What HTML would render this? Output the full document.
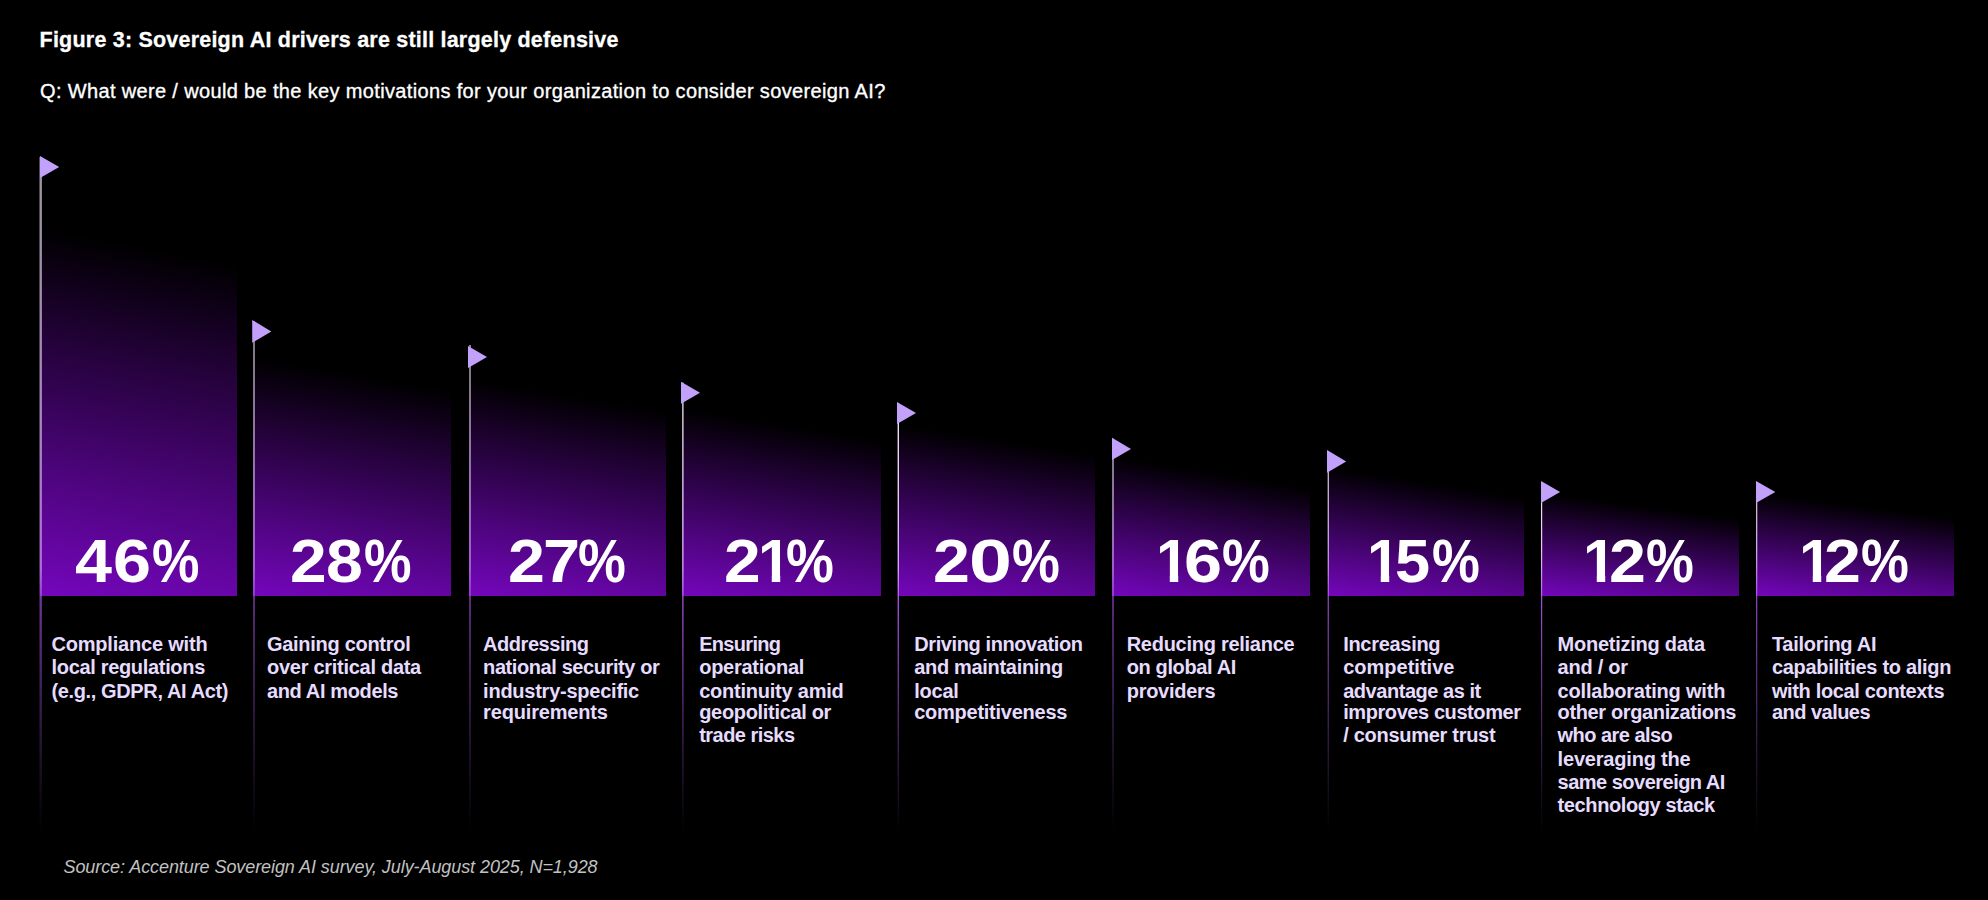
<!DOCTYPE html>
<html lang="en"><head><meta charset="utf-8"><title>Figure 3: Sovereign AI drivers are still largely defensive</title>
<style>
html,body{margin:0;padding:0;background:#000;}
body{width:1988px;height:900px;position:relative;overflow:hidden;font-family:"Liberation Sans",sans-serif;color:#fff;}
h1{position:absolute;left:39.6px;top:27.7px;margin:0;font-size:21.5px;line-height:24px;font-weight:bold;letter-spacing:0.21px;white-space:nowrap;-webkit-text-stroke:0.3px #fff;}
.q{position:absolute;left:40px;top:79px;margin:0;font-size:20px;line-height:24px;letter-spacing:0.35px;white-space:nowrap;-webkit-text-stroke:0.35px #fff;}
.bar{position:absolute;}
.pole{position:absolute;}
.pct{position:absolute;left:0;top:526.6px;height:68px;font-weight:bold;font-size:60.5px;line-height:68px;white-space:nowrap;}
.pct span{position:absolute;top:0;display:block;height:68px;transform-origin:0 0;}
.pct span.one{clip-path:polygon(0 0,22.7px 0,22.7px 100%,14px 100%,14px 48.4px,0 48.4px);}
.lbl{position:absolute;left:0;top:633px;font-weight:bold;font-size:20px;line-height:23.35px;color:#E6DCFF;white-space:nowrap;}
.lbl span{display:block;position:relative;height:23.35px;}
.lbl span.s{top:-2.2px;}
.src{position:absolute;left:63.5px;top:856px;font-style:italic;font-size:18px;line-height:22px;color:#c2c2c2;white-space:nowrap;letter-spacing:-0.08px;}
svg{position:absolute;left:0;top:0;}
</style></head><body>
<h1>Figure 3: Sovereign AI drivers are still largely defensive</h1>
<p class="q">Q: What were / would be the key motivations for your organization to consider sovereign AI?</p>

<div class="bar" style="left:39.5px;top:156.0px;width:197.5px;height:440.0px;background:linear-gradient(11deg,#7406bc 0%,#000 77.3%);"></div>
<div class="pct"><span style="left:75.31px;transform:scaleX(1.0988)">4</span><span style="left:113.31px;transform:scaleX(1.1297)">6</span><span style="left:152.18px;transform:scaleX(0.8817)">%</span></div>
<div class="lbl"><span style="left:51.50px;letter-spacing:-0.200px">Compliance with</span> <span style="left:51.50px;letter-spacing:-0.322px">local regulations</span> <span style="left:51.50px;letter-spacing:-0.373px">(e.g., GDPR, AI Act)</span></div>
<div class="bar" style="left:253.0px;top:320.0px;width:197.5px;height:276.0px;background:linear-gradient(9.6deg,#7406bc 0%,#000 77.3%);"></div>
<div class="pct"><span style="left:290.11px;transform:scaleX(1.0893)">2</span><span style="left:326.22px;transform:scaleX(1.0970)">8</span><span style="left:364.27px;transform:scaleX(0.8836)">%</span></div>
<div class="lbl"><span style="left:267.00px;letter-spacing:-0.290px">Gaining control</span> <span style="left:267.00px;letter-spacing:-0.278px">over critical data</span> <span style="left:267.00px;letter-spacing:-0.375px">and AI models</span></div>
<div class="bar" style="left:469.0px;top:346.0px;width:197.0px;height:250.0px;background:linear-gradient(9.4deg,#7406bc 0%,#000 77.1%);"></div>
<div class="pct"><span style="left:508.10px;transform:scaleX(1.0962)">2</span><span style="left:542.93px;transform:scaleX(1.1021)">7</span><span style="left:577.87px;transform:scaleX(0.8895)">%</span></div>
<div class="lbl"><span style="left:483.10px;letter-spacing:-0.457px">Addressing</span> <span style="left:483.10px;letter-spacing:-0.410px">national security or</span> <span style="left:483.10px;letter-spacing:-0.244px">industry-specific</span> <span class="s" style="left:483.10px;letter-spacing:-0.168px">requirements</span></div>
<div class="bar" style="left:682.0px;top:381.7px;width:199.0px;height:214.3px;background:linear-gradient(9.2deg,#7406bc 0%,#000 76.5%);"></div>
<div class="pct"><span style="left:724.01px;transform:scaleX(1.0893)">2</span><span class="one" style="left:758.06px;transform:scaleX(0.9839)">1</span><span style="left:785.87px;transform:scaleX(0.8895)">%</span></div>
<div class="lbl"><span style="left:699.20px;letter-spacing:-0.690px">Ensuring</span> <span style="left:699.20px;letter-spacing:-0.256px">operational</span> <span style="left:699.20px;letter-spacing:-0.230px">continuity amid</span> <span class="s" style="left:699.20px;letter-spacing:-0.320px">geopolitical or</span> <span class="s" style="left:699.20px;letter-spacing:-0.536px">trade risks</span></div>
<div class="bar" style="left:897.6px;top:402.0px;width:197.4px;height:194.0px;background:linear-gradient(9.0deg,#7406bc 0%,#000 76.6%);"></div>
<div class="pct"><span style="left:933.10px;transform:scaleX(1.0962)">2</span><span style="left:969.44px;transform:scaleX(1.2743)">0</span><span style="left:1011.67px;transform:scaleX(0.8895)">%</span></div>
<div class="lbl"><span style="left:914.20px;letter-spacing:-0.394px">Driving innovation</span> <span style="left:914.20px;letter-spacing:-0.310px">and maintaining</span> <span style="left:914.20px;letter-spacing:-0.235px">local</span> <span class="s" style="left:914.20px;letter-spacing:-0.250px">competitiveness</span></div>
<div class="bar" style="left:1112.0px;top:437.7px;width:198.0px;height:158.3px;background:linear-gradient(9.4deg,#7406bc 0%,#000 73.7%);"></div>
<div class="pct"><span class="one" style="left:1156.06px;transform:scaleX(0.9839)">1</span><span style="left:1184.01px;transform:scaleX(1.1297)">6</span><span style="left:1221.87px;transform:scaleX(0.8876)">%</span></div>
<div class="lbl"><span style="left:1126.70px;letter-spacing:-0.270px">Reducing reliance</span> <span style="left:1126.70px;letter-spacing:-0.372px">on global AI</span> <span style="left:1126.70px;letter-spacing:-0.270px">providers</span></div>
<div class="bar" style="left:1327.6px;top:450.0px;width:196.4px;height:146.0px;background:linear-gradient(9.0deg,#7406bc 0%,#000 73.4%);"></div>
<div class="pct"><span class="one" style="left:1367.16px;transform:scaleX(0.9839)">1</span><span style="left:1394.62px;transform:scaleX(1.0432)">5</span><span style="left:1431.87px;transform:scaleX(0.8895)">%</span></div>
<div class="lbl"><span style="left:1343.20px;letter-spacing:-0.301px">Increasing</span> <span style="left:1343.20px;letter-spacing:0.010px">competitive</span> <span style="left:1343.20px;letter-spacing:-0.460px">advantage as it</span> <span class="s" style="left:1343.20px;letter-spacing:-0.419px">improves customer</span> <span class="s" style="left:1343.20px;letter-spacing:-0.289px">/ consumer trust</span></div>
<div class="bar" style="left:1541.0px;top:481.0px;width:198.0px;height:115.0px;background:linear-gradient(7.4deg,#7406bc 0%,#000 73.6%);"></div>
<div class="pct"><span class="one" style="left:1583.26px;transform:scaleX(0.9839)">1</span><span style="left:1609.00px;transform:scaleX(1.0962)">2</span><span style="left:1645.87px;transform:scaleX(0.8895)">%</span></div>
<div class="lbl"><span style="left:1557.60px;letter-spacing:-0.260px">Monetizing data</span> <span style="left:1557.60px;letter-spacing:-0.250px">and / or</span> <span style="left:1557.60px;letter-spacing:-0.196px">collaborating with</span> <span class="s" style="left:1557.60px;letter-spacing:-0.371px">other organizations</span> <span class="s" style="left:1557.60px;letter-spacing:-0.537px">who are also</span> <span class="s" style="left:1557.60px;letter-spacing:-0.195px">leveraging the</span> <span class="s" style="left:1557.60px;letter-spacing:-0.515px">same sovereign AI</span> <span class="s" style="left:1557.60px;letter-spacing:-0.391px">technology stack</span></div>
<div class="bar" style="left:1756.0px;top:481.0px;width:198.0px;height:115.0px;background:linear-gradient(7.4deg,#7406bc 0%,#000 73.6%);"></div>
<div class="pct"><span class="one" style="left:1798.56px;transform:scaleX(0.9839)">1</span><span style="left:1824.30px;transform:scaleX(1.0962)">2</span><span style="left:1861.17px;transform:scaleX(0.8895)">%</span></div>
<div class="lbl"><span style="left:1771.90px;letter-spacing:-0.283px">Tailoring AI</span> <span style="left:1771.90px;letter-spacing:-0.305px">capabilities to align</span> <span style="left:1771.90px;letter-spacing:-0.348px">with local contexts</span> <span class="s" style="left:1771.90px;letter-spacing:-0.519px">and values</span></div>
<svg width="1988" height="900" viewBox="0 0 1988 900"><defs><linearGradient id="pg0" gradientUnits="userSpaceOnUse" x1="0" y1="157.0" x2="0" y2="832"><stop offset="0%" stop-color="#f0e4f6"/><stop offset="39.0%" stop-color="#e2caf2"/><stop offset="60.9%" stop-color="#d2a4f0"/><stop offset="64.6%" stop-color="#b264e6"/><stop offset="65.6%" stop-color="#a050d8"/><stop offset="100%" stop-color="#a050d8" stop-opacity="0"/></linearGradient><linearGradient id="pg1" gradientUnits="userSpaceOnUse" x1="0" y1="321.0" x2="0" y2="832"><stop offset="0%" stop-color="#f0e4f6"/><stop offset="32.2%" stop-color="#e2caf2"/><stop offset="48.3%" stop-color="#d2a4f0"/><stop offset="53.2%" stop-color="#b264e6"/><stop offset="54.6%" stop-color="#a050d8"/><stop offset="100%" stop-color="#a050d8" stop-opacity="0"/></linearGradient><linearGradient id="pg2" gradientUnits="userSpaceOnUse" x1="0" y1="345.0" x2="0" y2="832"><stop offset="0%" stop-color="#f0e4f6"/><stop offset="31.0%" stop-color="#e2caf2"/><stop offset="45.8%" stop-color="#d2a4f0"/><stop offset="50.9%" stop-color="#b264e6"/><stop offset="52.4%" stop-color="#a050d8"/><stop offset="100%" stop-color="#a050d8" stop-opacity="0"/></linearGradient><linearGradient id="pg3" gradientUnits="userSpaceOnUse" x1="0" y1="382.7" x2="0" y2="832"><stop offset="0%" stop-color="#f0e4f6"/><stop offset="28.4%" stop-color="#e2caf2"/><stop offset="41.2%" stop-color="#d2a4f0"/><stop offset="46.8%" stop-color="#b264e6"/><stop offset="48.4%" stop-color="#a050d8"/><stop offset="100%" stop-color="#a050d8" stop-opacity="0"/></linearGradient><linearGradient id="pg4" gradientUnits="userSpaceOnUse" x1="0" y1="403.0" x2="0" y2="832"><stop offset="0%" stop-color="#f0e4f6"/><stop offset="26.9%" stop-color="#e2caf2"/><stop offset="38.5%" stop-color="#d2a4f0"/><stop offset="44.3%" stop-color="#b264e6"/><stop offset="45.9%" stop-color="#a050d8"/><stop offset="100%" stop-color="#a050d8" stop-opacity="0"/></linearGradient><linearGradient id="pg5" gradientUnits="userSpaceOnUse" x1="0" y1="438.7" x2="0" y2="832"><stop offset="0%" stop-color="#f0e4f6"/><stop offset="23.9%" stop-color="#e2caf2"/><stop offset="32.9%" stop-color="#d2a4f0"/><stop offset="39.2%" stop-color="#b264e6"/><stop offset="41.0%" stop-color="#a050d8"/><stop offset="100%" stop-color="#a050d8" stop-opacity="0"/></linearGradient><linearGradient id="pg6" gradientUnits="userSpaceOnUse" x1="0" y1="451.0" x2="0" y2="832"><stop offset="0%" stop-color="#f0e4f6"/><stop offset="22.7%" stop-color="#e2caf2"/><stop offset="30.7%" stop-color="#d2a4f0"/><stop offset="37.3%" stop-color="#b264e6"/><stop offset="39.1%" stop-color="#a050d8"/><stop offset="100%" stop-color="#a050d8" stop-opacity="0"/></linearGradient><linearGradient id="pg7" gradientUnits="userSpaceOnUse" x1="0" y1="482.0" x2="0" y2="832"><stop offset="0%" stop-color="#f0e4f6"/><stop offset="19.4%" stop-color="#e2caf2"/><stop offset="24.6%" stop-color="#d2a4f0"/><stop offset="31.7%" stop-color="#b264e6"/><stop offset="33.7%" stop-color="#a050d8"/><stop offset="100%" stop-color="#a050d8" stop-opacity="0"/></linearGradient><linearGradient id="pg8" gradientUnits="userSpaceOnUse" x1="0" y1="482.0" x2="0" y2="832"><stop offset="0%" stop-color="#f0e4f6"/><stop offset="19.4%" stop-color="#e2caf2"/><stop offset="24.6%" stop-color="#d2a4f0"/><stop offset="31.7%" stop-color="#b264e6"/><stop offset="33.7%" stop-color="#a050d8"/><stop offset="100%" stop-color="#a050d8" stop-opacity="0"/></linearGradient></defs>
<rect x="39.5" y="157.0" width="2.4" height="675.0" fill="url(#pg0)" opacity="0.66"/>
<rect x="253.0" y="321.0" width="2.0" height="511.0" fill="url(#pg1)" opacity="0.55"/>
<rect x="469.0" y="345.0" width="2.0" height="487.0" fill="url(#pg2)" opacity="0.55"/>
<rect x="682.0" y="382.7" width="1.7" height="449.3" fill="url(#pg3)" opacity="0.78"/>
<rect x="897.6" y="403.0" width="1.4" height="429.0" fill="url(#pg4)" opacity="1.0"/>
<rect x="1112.0" y="438.7" width="2.0" height="393.3" fill="url(#pg5)" opacity="0.55"/>
<rect x="1327.6" y="451.0" width="1.4" height="381.0" fill="url(#pg6)" opacity="0.8"/>
<rect x="1541.0" y="482.0" width="1.2" height="350.0" fill="url(#pg7)" opacity="1.0"/>
<rect x="1756.0" y="482.0" width="1.3" height="350.0" fill="url(#pg8)" opacity="0.85"/>
<polygon points="40.0,156.0 59.2,167.0 40.0,178.0" fill="#c2a1fb"/>
<polygon points="252.2,320.0 271.3,331.4 252.2,342.7" fill="#c2a1fb"/>
<polygon points="468.0,346.0 487.0,357.0 468.0,368.0" fill="#c2a1fb"/>
<polygon points="681.0,381.7 700.0,392.7 681.0,403.7" fill="#c2a1fb"/>
<polygon points="897.0,402.0 916.0,413.0 897.0,424.0" fill="#c2a1fb"/>
<polygon points="1112.0,437.7 1131.0,448.9 1112.0,460.0" fill="#c2a1fb"/>
<polygon points="1327.0,450.0 1346.2,461.4 1327.0,472.7" fill="#c2a1fb"/>
<polygon points="1541.0,481.0 1560.1,492.0 1541.0,503.0" fill="#c2a1fb"/>
<polygon points="1756.0,481.0 1775.3,492.0 1756.0,503.0" fill="#c2a1fb"/>
</svg>
<div class="src">Source: Accenture Sovereign AI survey, July-August 2025, N=1,928</div>
</body></html>
